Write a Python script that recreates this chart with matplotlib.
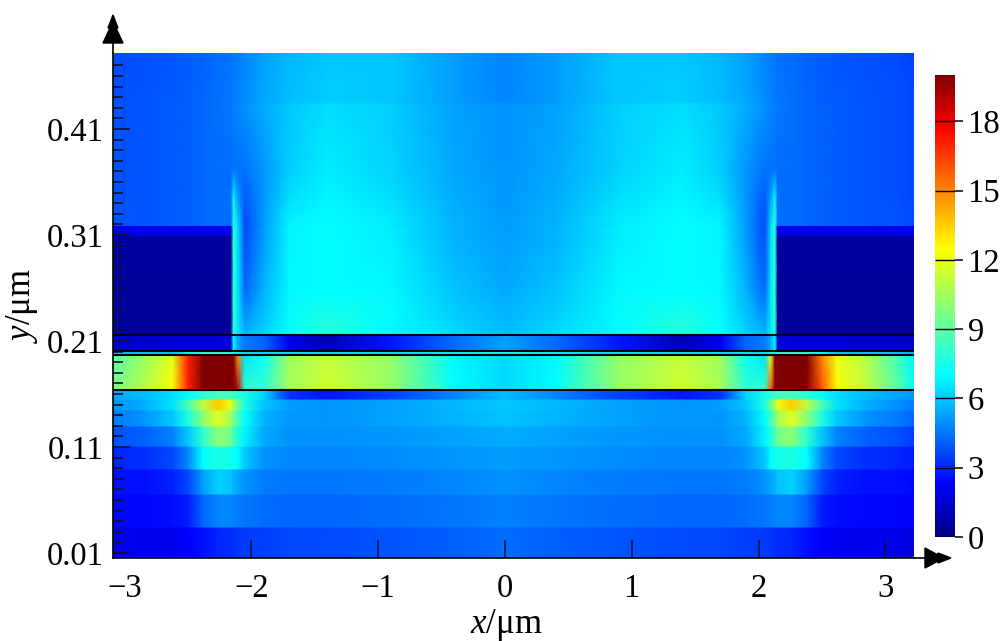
import numpy as np
import matplotlib
matplotlib.use('Agg')
import matplotlib.pyplot as plt
from matplotlib.colors import LinearSegmentedColormap
from matplotlib.patches import Polygon

plt.rcParams['font.family'] = ['Liberation Serif', 'DejaVu Serif']
plt.rcParams['mathtext.fontset'] = 'custom'
plt.rcParams['mathtext.rm'] = 'Liberation Serif'
plt.rcParams['mathtext.it'] = 'Liberation Serif:italic'

# field values, one list per row, columns follow x_knots
x_knots = [-3.09, -2.85, -2.62, -2.5, -2.38, -2.26, -2.16, -2.14, -2.11, -2.05, -1.9, -1.7, -1.4, -0.9, -0.4, 0,
           0.4, 0.9, 1.4, 1.7, 1.9, 2.05, 2.1, 2.13, 2.15, 2.26, 2.38, 2.5, 2.62, 2.85, 3.09, 3.23]

# air above the film, smooth in y
air_y = [0.4817, 0.4345, 0.4336, 0.3713, 0.3477, 0.3185, 0.3180, 0.3090, 0.3085, 0.2581, 0.2157]
air_rows = [
    [3.7, 3.8, 3.9, 4.0, 4.1, 4.3, 4.4, 4.5, 4.6, 4.8, 5.3, 5.7, 6.0, 6.0, 5.2, 4.8, 5.2, 6.0, 6.0, 5.7, 5.3, 4.8, 4.6, 4.5, 4.4, 4.3, 4.1, 4.0, 3.9, 3.8, 3.7, 3.5],
    [3.8, 3.9, 4.0, 4.1, 4.2, 4.4, 4.5, 4.6, 4.7, 4.9, 5.4, 5.8, 6.1, 6.0, 5.2, 4.8, 5.2, 6.0, 6.1, 5.8, 5.4, 4.9, 4.7, 4.6, 4.5, 4.4, 4.2, 4.1, 4.0, 3.9, 3.8, 3.6],
    [3.8, 3.9, 4.0, 4.1, 4.2, 4.4, 4.5, 4.7, 4.8, 5.0, 5.5, 6.0, 6.4, 6.1, 5.3, 5.0, 5.3, 6.1, 6.4, 6.0, 5.5, 5.0, 4.8, 4.7, 4.5, 4.4, 4.2, 4.1, 4.0, 3.9, 3.8, 3.6],
    [3.8, 3.9, 4.0, 4.1, 4.2, 4.3, 4.3, 4.4, 4.4, 4.4, 5.1, 6.1, 6.7, 6.2, 5.4, 5.1, 5.4, 6.2, 6.7, 6.1, 5.1, 4.4, 4.4, 4.4, 4.3, 4.3, 4.2, 4.1, 4.0, 3.9, 3.8, 3.6],
    [3.8, 3.9, 4.0, 4.1, 4.2, 4.3, 4.3, 6.8, 5.2, 4.0, 5.1, 6.4, 6.8, 6.4, 5.5, 5.1, 5.5, 6.4, 6.8, 6.4, 5.1, 4.0, 5.2, 6.8, 4.3, 4.3, 4.2, 4.1, 4.0, 3.9, 3.8, 3.6],
    [3.9, 3.9, 4.0, 4.1, 4.2, 4.3, 4.3, 8.0, 6.5, 3.6, 5.2, 6.8, 7.0, 6.7, 5.6, 5.2, 5.6, 6.7, 7.0, 6.8, 5.2, 3.6, 6.5, 8.0, 4.3, 4.3, 4.2, 4.1, 4.0, 3.9, 3.9, 3.7],
    [2.0, 2.0, 2.0, 2.0, 2.0, 2.0, 2.0, 8.0, 6.5, 3.6, 5.2, 6.8, 7.0, 6.7, 5.6, 5.2, 5.6, 6.7, 7.0, 6.8, 5.2, 3.6, 6.5, 8.0, 2.0, 2.0, 2.0, 2.0, 2.0, 2.0, 2.0, 2.0],
    [1.8, 1.8, 1.8, 1.8, 1.8, 1.8, 1.8, 8.0, 6.5, 3.7, 5.2, 6.8, 7.0, 6.7, 5.6, 5.2, 5.6, 6.7, 7.0, 6.8, 5.2, 3.7, 6.5, 8.0, 1.8, 1.8, 1.8, 1.8, 1.8, 1.8, 1.8, 1.8],
    [0.6, 0.6, 0.6, 0.6, 0.6, 0.6, 0.6, 8.0, 6.5, 3.7, 5.2, 6.8, 7.0, 6.7, 5.6, 5.2, 5.6, 6.7, 7.0, 6.8, 5.2, 3.7, 6.5, 8.0, 0.6, 0.6, 0.6, 0.6, 0.6, 0.6, 0.6, 0.6],
    [0.5, 0.5, 0.5, 0.5, 0.5, 0.5, 0.5, 8.0, 6.7, 4.2, 5.6, 6.9, 7.0, 6.9, 5.9, 5.4, 5.9, 6.9, 7.0, 6.9, 5.6, 4.2, 6.7, 8.0, 0.5, 0.5, 0.5, 0.5, 0.5, 0.5, 0.5, 0.5],
    [0.5, 0.5, 0.5, 0.5, 0.5, 0.5, 0.5, 8.0, 6.7, 5.6, 6.2, 7.1, 7.9, 7.0, 6.3, 5.8, 6.3, 7.0, 7.9, 7.1, 6.2, 5.6, 6.7, 8.0, 0.5, 0.5, 0.5, 0.5, 0.5, 0.5, 0.5, 0.5],
]

# thin layers between the black lines
gap_y = [0.2157, 0.2006]
gap_row = [1.4, 1.4, 1.5, 1.5, 1.5, 1.5, 1.5, 7.0, 5.5, 4.6, 4.2, 2.0, 0.9, 2.7, 4.3, 5.3, 4.3, 2.7, 0.9, 2.0, 4.2, 4.6, 5.5, 7.0, 1.5, 1.5, 1.5, 1.5, 1.5, 1.4, 1.4, 1.3]
thin_y = [0.2006, 0.1968]
thin_row = [6.0, 6.0, 6.0, 7.0, 8.0, 8.0, 8.0, 7.5, 7.0, 6.5, 6.5, 6.5, 6.5, 6.5, 6.8, 7.0, 6.8, 6.5, 6.5, 6.5, 6.5, 6.5, 7.0, 7.5, 8.0, 8.0, 8.0, 7.0, 6.0, 6.0, 6.0, 5.8]

# the bright layer
active_y = [0.1968, 0.1638]
active_top = [8.8, 10.2, 11.8, 17.0, 20.0, 20.0, 20.0, 20.0, 15.0, 6.5, 7.2, 10.4, 11.2, 10.2, 6.9, 6.3, 6.9, 10.2, 11.2, 10.4, 7.2, 6.5, 12.0, 20.0, 20.0, 20.0, 20.0, 15.0, 12.0, 10.8, 8.5, 6.8]
active_bottom = [9.6, 11.0, 12.5, 17.0, 20.0, 20.0, 20.0, 20.0, 19.0, 8.0, 8.0, 10.6, 11.5, 10.3, 7.0, 6.3, 7.0, 10.3, 11.5, 10.6, 8.0, 8.0, 16.0, 20.0, 20.0, 20.0, 20.0, 16.0, 12.6, 11.2, 9.0, 7.0]

# substrate bands, flat in y
band_y = [0.1638, 0.1543, 0.1440, 0.1289, 0.1100, 0.0883, 0.0647, 0.0336, 0.0053]
band_rows = [
    [5.4, 5.8, 6.4, 7.0, 8.0, 8.5, 8.5, 8.2, 8.0, 7.5, 6.2, 3.2, 2.7, 3.5, 4.8, 5.8, 4.8, 3.5, 2.7, 3.2, 6.2, 7.5, 8.0, 8.2, 8.5, 8.5, 8.0, 7.0, 6.4, 5.8, 5.4, 5.0],
    [5.0, 5.5, 6.5, 8.5, 11.0, 13.5, 12.0, 10.5, 9.5, 7.5, 6.0, 5.2, 5.1, 5.3, 5.7, 6.0, 5.7, 5.3, 5.1, 5.2, 6.0, 7.5, 9.5, 10.5, 12.0, 13.5, 11.0, 8.5, 6.5, 5.5, 5.0, 4.6],
    [4.6, 5.0, 6.0, 7.6, 10.0, 11.8, 10.5, 9.5, 8.5, 7.0, 5.6, 5.1, 5.1, 5.3, 5.6, 5.9, 5.6, 5.3, 5.1, 5.1, 5.6, 7.0, 8.5, 9.5, 10.5, 11.8, 10.0, 7.6, 6.0, 5.0, 4.6, 4.2],
    [3.8, 4.1, 4.7, 6.0, 8.0, 10.0, 9.5, 8.5, 7.8, 6.8, 5.4, 5.0, 5.0, 5.1, 5.3, 5.5, 5.3, 5.1, 5.0, 5.0, 5.4, 6.8, 7.8, 8.5, 9.5, 10.0, 8.0, 6.0, 4.7, 4.1, 3.8, 3.4],
    [3.0, 3.2, 3.6, 4.8, 7.0, 7.6, 7.4, 7.2, 7.0, 6.0, 5.0, 4.8, 4.8, 4.9, 5.1, 5.2, 5.1, 4.9, 4.8, 4.8, 5.0, 6.0, 7.0, 7.2, 7.4, 7.6, 7.0, 4.8, 3.6, 3.2, 3.0, 2.8],
    [2.6, 2.6, 2.9, 3.6, 5.2, 6.2, 5.9, 5.6, 5.4, 5.0, 4.6, 4.5, 4.5, 4.6, 4.8, 5.0, 4.8, 4.6, 4.5, 4.5, 4.6, 5.0, 5.4, 5.6, 5.9, 6.2, 5.2, 3.6, 2.9, 2.6, 2.6, 2.4],
    [2.4, 2.4, 2.5, 2.8, 4.2, 4.8, 4.8, 4.7, 4.6, 4.5, 4.3, 4.2, 4.2, 4.3, 4.5, 4.7, 4.5, 4.3, 4.2, 4.2, 4.3, 4.5, 4.6, 4.7, 4.8, 4.8, 4.2, 2.8, 2.5, 2.4, 2.4, 2.2],
    [1.9, 2.0, 2.1, 2.3, 2.6, 3.0, 3.1, 3.2, 3.3, 3.4, 3.5, 3.6, 3.7, 3.9, 4.1, 4.3, 4.1, 3.9, 3.7, 3.6, 3.5, 3.4, 3.3, 3.2, 3.1, 3.0, 2.6, 2.3, 2.1, 2.0, 1.9, 1.7],
]

layer_lines = [0.2157, 0.2006, 0.1968, 0.1638]
x_ticks = [-3, -2, -1, 0, 1, 2, 3]
y_ticks = [0.01, 0.11, 0.21, 0.31, 0.41]
cbar_ticks = [0, 3, 6, 9, 12, 15, 18]

# colour stops of the scale bar
cmap_stops = [0, 2.3, 7, 12.5, 17.7, 20]
cmap_colors = ['#000080', '#0000ff', '#00ffff', '#ffff00', '#ff0000', '#800000']

W, H = 1000, 641


def fx(p):
    return p / W


def fy(p):
    return 1 - p / H


cmap = LinearSegmentedColormap.from_list('bar', [(s / 20, c) for s, c in zip(cmap_stops, cmap_colors)], N=512)

fig = plt.figure(figsize=(10, 6.41), dpi=100)
ax = fig.add_axes([fx(113), fy(558), fx(914 - 113), (558 - 53) / H])
cax = fig.add_axes([fx(935), fy(537), fx(20), (537 - 75) / H])

ys = list(air_y)
rows = list(air_rows)
ys += gap_y + thin_y + active_y
rows += [gap_row, gap_row, thin_row, thin_row, active_top, active_bottom]
for i, r in enumerate(band_rows):
    ys += [band_y[i], band_y[i + 1]]
    rows += [r, r]
ys = np.array(ys)
Z = np.array(rows)

mesh = ax.pcolormesh(np.array(x_knots), ys, Z, shading='gouraud', cmap=cmap, vmin=0, vmax=20)
ax.set_xlim(-3.09, 3.226)
ax.set_ylim(0.0053, 0.4817)

for y in layer_lines:
    ax.axhline(y, color='black', lw=1.5)

for s in ['top', 'right']:
    ax.spines[s].set_visible(False)
ax.spines['left'].set_linewidth(1.2)
ax.spines['bottom'].set_linewidth(1.2)

ax.set_xticks(x_ticks)
ax.set_xticklabels(['\u2212' + str(-t) if t < 0 else str(t) for t in x_ticks])
ax.set_yticks(y_ticks)
ax.set_yticklabels(['%.2f' % t for t in y_ticks])
ax.set_yticks(np.arange(0.01, 0.48, 0.01), minor=True)
ax.tick_params(axis='x', direction='in', length=13, width=1.1, labelsize=23.5, pad=11, color='#101030')
ax.tick_params(axis='y', which='major', direction='in', length=12, width=1.2, labelsize=23.5, pad=7, color='#101030')
ax.tick_params(axis='y', which='minor', direction='in', length=7, width=1.2, color='#101030')
ax.xaxis.get_major_ticks()[0].tick1line.set_visible(False)

cb = fig.colorbar(mesh, cax=cax)
cb.outline.set_visible(False)
cb.set_ticks(cbar_ticks)
cb.ax.tick_params(direction='out', length=6, width=1.1, labelsize=23.5, pad=3)
cax.hlines(cbar_ticks, 0, 1, color='black', lw=1.0, transform=cax.get_yaxis_transform())

fig.text(fx(506), fy(625), r'$\mathit{x}$/μm', fontsize=25, ha='center', va='center')
fig.text(fx(22), fy(305), r'$\mathit{y}$/μm', fontsize=25, ha='center', va='center', rotation=90)

# axis extensions and arrow heads, in figure pixels
fig.add_artist(plt.Line2D([fx(113), fx(113)], [fy(53), fy(40)], color='black', lw=1.2))
fig.add_artist(plt.Line2D([fx(914), fx(926)], [fy(558), fy(558)], color='black', lw=1.2))
fig.add_artist(Polygon([(fx(113), fy(15)), (fx(108), fy(28)), (fx(110), fy(28)), (fx(103), fy(43)), (fx(123), fy(43)),
                        (fx(116), fy(28)), (fx(118), fy(28))], closed=True, color='black', transform=fig.transFigure))
fig.add_artist(Polygon([(fx(951), fy(558)), (fx(938), fy(553)), (fx(938), fy(555)), (fx(925), fy(548)), (fx(925), fy(568)),
                        (fx(938), fy(561)), (fx(938), fy(563))], closed=True, color='black', transform=fig.transFigure))

fig.savefig('out.png', dpi=100)
